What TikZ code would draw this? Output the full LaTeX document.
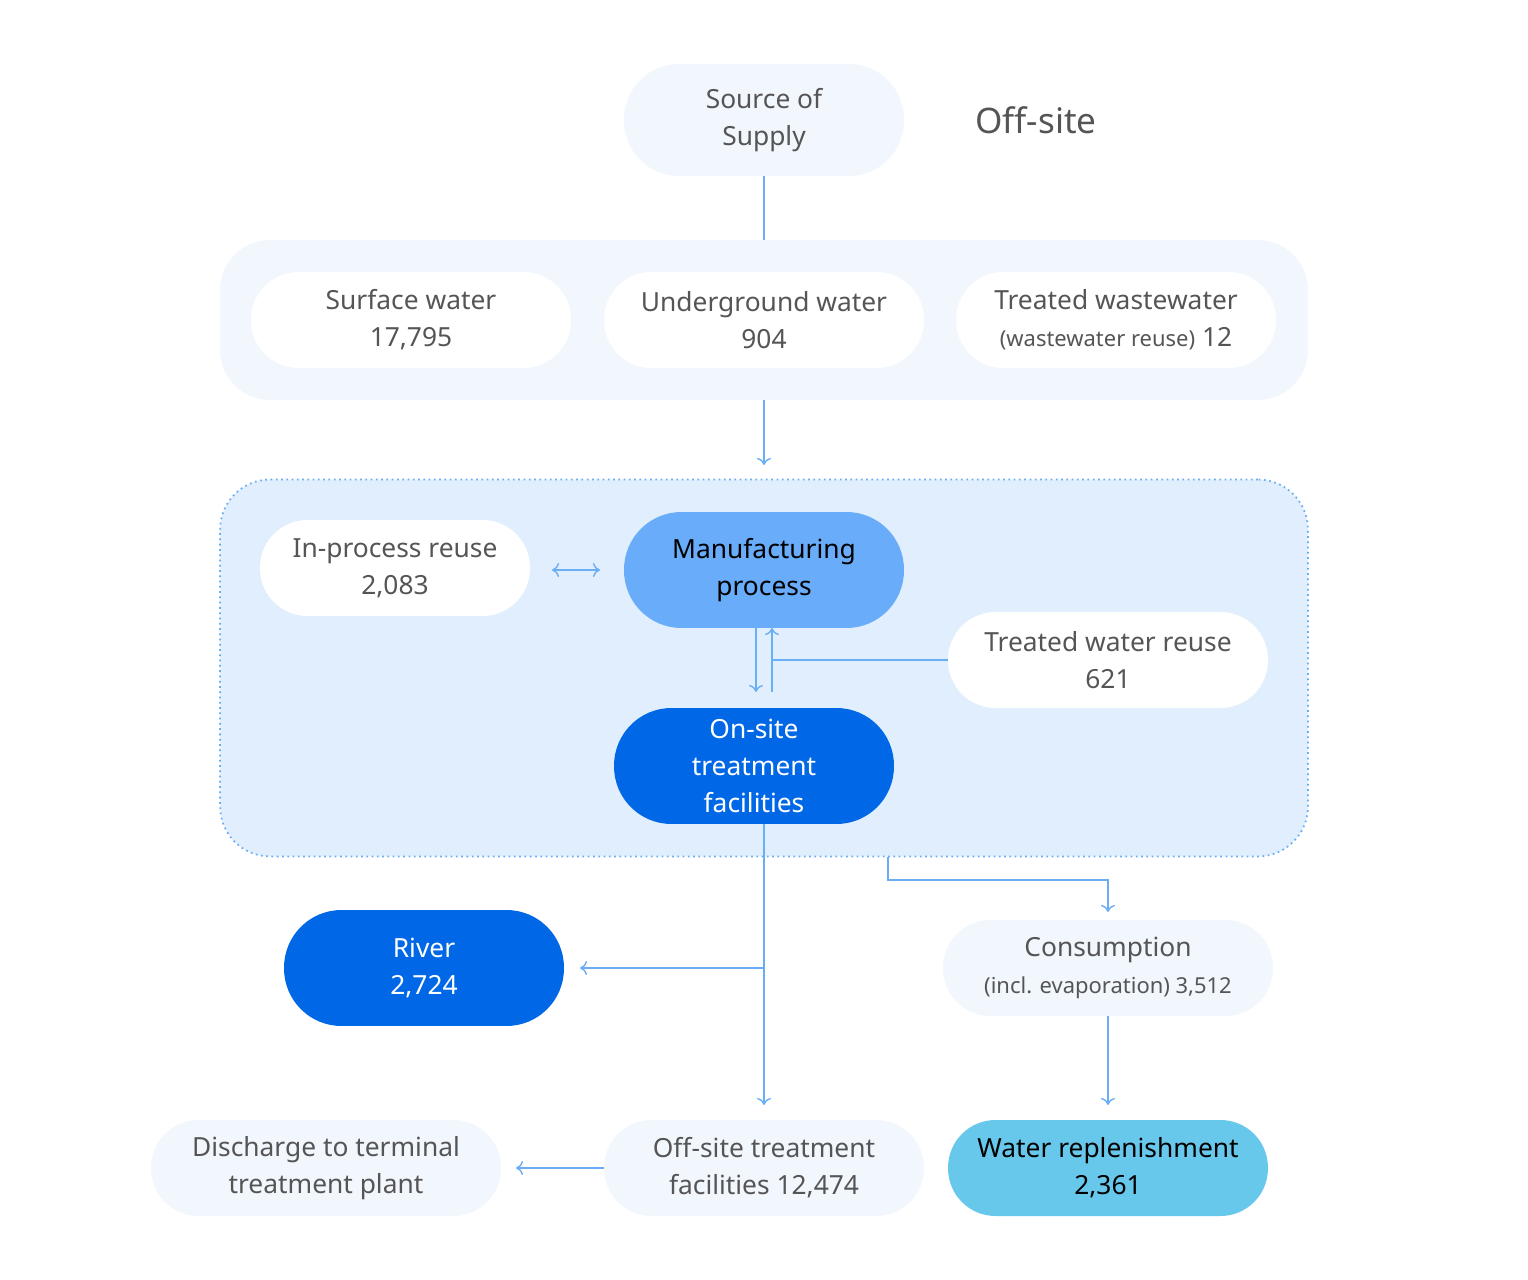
\documentclass[tikz,border=0pt]{standalone}
\usepackage{fontspec}
\setmainfont{Noto Sans}
\usetikzlibrary{arrows.meta,positioning}
\definecolor{paleblue}{HTML}{F2F6FD}
\definecolor{zoneblue}{HTML}{E1EEFD}
\definecolor{lineblue}{HTML}{6AAEF5}
\definecolor{midblue}{HTML}{68ACFA}
\definecolor{deepblue}{HTML}{0068E6}
\definecolor{skyblue}{HTML}{68C8EC}
\definecolor{txtgray}{HTML}{555555}

\begin{document}
\begin{tikzpicture}[x=0.02cm,y=-0.02cm,
    every node/.style={font=\fontsize{15}{21}\selectfont, text=txtgray, align=center},
    pill/.style={minimum height=1.92cm, inner sep=0pt},
    light/.style={pill, fill=paleblue},
    white/.style={pill, fill=white},
    flow/.style={draw=lineblue, line width=0.8pt},
    tip/.style={flow, -{To[length=4pt,width=8pt]}}]
    \useasboundingbox (0,0) rectangle (1528,1280);

    % Supply side
    \node[light, minimum width=5.6cm, minimum height=2.24cm, rounded corners=1.1cm] (src) at (764,120) {Source of\\Supply};
    \node[font=\fontsize{20}{24}\selectfont\bfseries] (offsite) at (1036,120) {Off-site};
    \node[fill=paleblue, rounded corners=1cm, minimum width=21.76cm, minimum height=3.2cm] (supply) at (764,320) {};
    \node[white, rounded corners=0.95cm, minimum width=6.4cm] (surf) at (411,320) {Surface water\\17,795};
    \node[white, rounded corners=0.95cm, minimum width=6.4cm] (under) at (764,320) {Underground water\\904};
    \node[white, rounded corners=0.95cm, minimum width=6.4cm] (treat) at (1116,320) {Treated wastewater\\{\fontsize{12.5}{21}\selectfont(wastewater reuse)} 12};

    % On-site zone
    \node[fill=zoneblue, draw=lineblue, dotted, line width=1pt, rounded corners=1cm, minimum width=21.76cm, minimum height=7.54cm] (site) at (764,668) {};
    \node[white, rounded corners=0.95cm, minimum width=5.4cm] (inproc) at (395,568) {In-process reuse\\2,083};
    \node[pill, fill=midblue, text=black, font=\fontsize{15}{21}\selectfont\bfseries, rounded corners=1.15cm, minimum width=5.6cm, minimum height=2.32cm] (mfg) at (764,570) {Manufacturing\\process};
    \node[white, rounded corners=0.95cm, minimum width=6.4cm] (reuse) at (1108,660) {Treated water reuse\\621};
    \node[pill, fill=deepblue, text=white, rounded corners=1.15cm, minimum width=5.6cm, minimum height=2.32cm] (onsite) at (754,766) {On-site\\treatment\\facilities};

    % Outputs
    \node[pill, fill=deepblue, text=white, rounded corners=1.15cm, minimum width=5.6cm, minimum height=2.32cm] (river) at (424,968) {River\\2,724};
    \node[light, rounded corners=0.95cm, minimum width=6.6cm] (cons) at (1108,968) {Consumption\\{\fontsize{12.5}{21}\selectfont(incl. evaporation) 3,512}};
    \node[light, rounded corners=0.95cm, minimum width=6.4cm] (offtreat) at (764,1168) {Off-site treatment\\facilities 12,474};
    \node[light, rounded corners=0.95cm, minimum width=7cm] (disch) at (326,1168) {Discharge to terminal\\treatment plant};
    \node[pill, fill=skyblue, text=black, rounded corners=0.95cm, minimum width=6.4cm] (repl) at (1108,1168) {Water replenishment\\2,361};

    % Connectors
    \coordinate (a1) at (764,465);
    \coordinate (a2) at (552,570);
    \coordinate (a3) at (600,570);
    \coordinate (m1) at (756,692);
    \coordinate (m2) at (772,692);
    \coordinate (m3) at (772,628);
    \coordinate (m4) at (756,628);
    \coordinate (j1) at (764,968);
    \coordinate (r1) at (580,968);
    \coordinate (d1) at (764,1105);
    \coordinate (c0) at (888,857);
    \coordinate (c1) at (1108,912);
    \coordinate (c2) at (1108,1105);
    \coordinate (o1) at (516,1168);
    \draw[flow] (src) -- (supply);
    \draw[tip] (supply) -- (a1);
    \draw[flow, {To[length=4pt,width=8pt]}-{To[length=4pt,width=8pt]}] (a2) -- (a3);
    \draw[tip] (m4) -- (m1);
    \draw[tip] (m2) -- (m3);
    \draw[flow] (reuse.west) -- (reuse.west -| m2);
    \draw[tip] (onsite.south -| j1) -- (d1);
    \draw[tip] (j1) -- (r1);
    \draw[tip] (c0) |- (888,880) -| (c1);
    \draw[tip] (cons) -- (c2);
    \draw[tip] (offtreat) -- (o1);
\end{tikzpicture}
\end{document}
